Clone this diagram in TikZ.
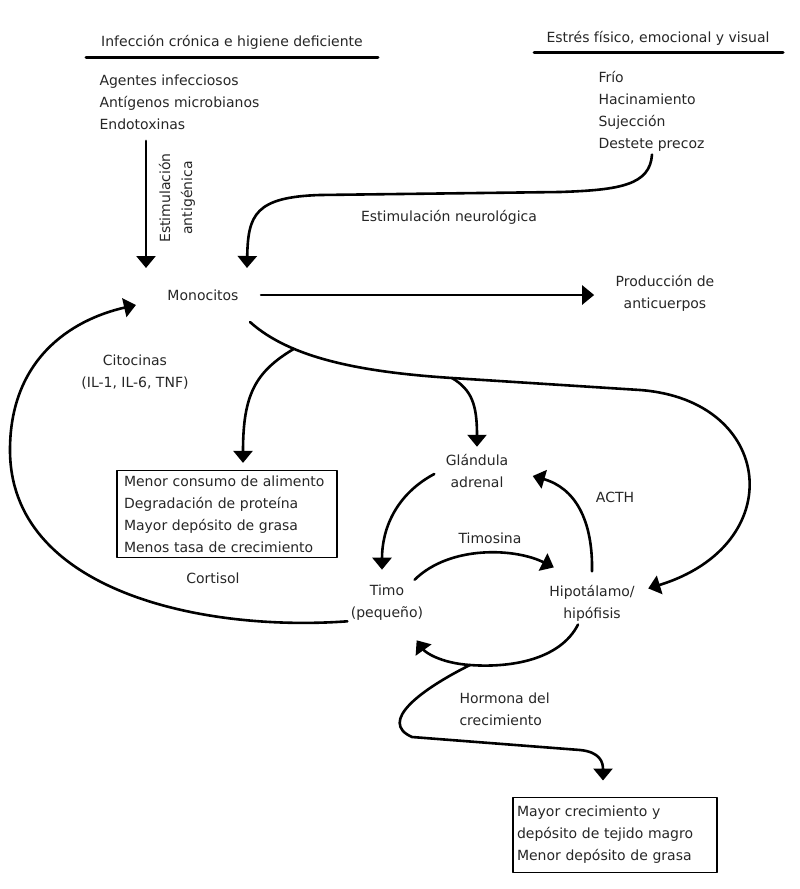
\documentclass[tikz,border=0pt]{standalone}
\usepackage{fontspec}
\setmainfont{DejaVu Sans}
\usetikzlibrary{arrows.meta}
\tikzset{>={Triangle[width=19pt,length=12pt]}}

\begin{document}
\begin{tikzpicture}[x=1pt, y=-1pt,
                line cap=round, line join=round,
                every node/.style={font=\fontsize{14}{22}\selectfont, text=black!85},
                linea/.style={line width=2.6pt},
                flecha/.style={linea,->},
                raya/.style={line width=3pt},
                caja/.style={draw, line width=1.4pt, align=left}]
                \useasboundingbox (0,0) rectangle (800,889);

                % encabezados y listas
                \node (hInf) at (232,42) {Infección crónica e higiene deficiente};
                \draw[raya] (86,57) -- (378,57);
                \node (hEst) at (658,38) {Estrés físico, emocional y visual};
                \draw[raya] (534,52) -- (783,52);
                \node[anchor=west, align=left] (infec) at (96,102)
                    {Agentes infecciosos\\Antígenos microbianos\\Endotoxinas};
                \node[anchor=west, align=left] (estres) at (595,111)
                    {Frío\\Hacinamiento\\Sujección\\Destete precoz};

                % nodos principales
                \node (mono) at (203,295) {Monocitos};
                \node[align=center] (prod) at (665,293) {Producción de\\anticuerpos};
                \node[caja, text width=206pt, inner xsep=7pt, inner ysep=5pt] (efectos) at (227,514)
                    {Menor consumo de alimento\\Degradación de proteína\\Mayor depósito de grasa\\Menos tasa de crecimiento};
                \node[align=center] (adrenal) at (477,471) {Glándula\\adrenal};
                \node[align=center] (timo) at (387,603) {Timo\\(pequeño)};
                \node[align=center] (hipo) at (592,603) {Hipotálamo/\\hipófisis};
                \node[caja, text width=196pt, inner xsep=4pt, inner ysep=9pt] (magro) at (615,835)
                    {Mayor crecimiento y\\depósito de tejido magro\\Menor depósito de grasa};

                % rotulos
                \node[rotate=90, align=center] (lAntig) at (177,198) {Estimulación\\antigénica};
                \node (lNeuro) at (449,217) {Estimulación neurológica};
                \node[align=center] (lCito) at (135,372) {Citocinas\\(IL-1, IL-6, TNF)};
                \node (lCort) at (213,578) {Cortisol};
                \node (lTimos) at (490,538) {Timosina};
                \node (lACTH) at (615,497) {ACTH};
                \node[anchor=west, align=left] (lHorm) at (456,709) {Hormona del\\crecimiento};

                % entradas a monocitos
                \coordinate (aA) at (146,268);
                \coordinate (aN) at (247,268);
                \draw[flecha, shorten <=8pt] (infec.south -| aA) -- (aA);
                \draw[flecha] ([xshift=57pt]estres.south west) .. controls (650,185) and (620,190) .. (560,192)
                    -- (320,195) .. controls (255,197) and (248,215) .. (aN);
                \draw[flecha, shorten <=19pt, shorten >=18pt] (mono.east) -- (mono.east -| prod.west);

                % salida de monocitos y ramas
                \draw[flecha] (250,322) .. controls (290,358) and (360,372) .. coordinate[pos=0.3] (j1) (452,378) coordinate (j2)
                    -- (640,390) .. controls (775,400) and (790,545) .. ([xshift=10pt,yshift=-7pt]hipo.north east);
                \draw[flecha] (j1) .. controls (255,372) and (243,395) .. ([xshift=16pt,yshift=7pt]efectos.north);
                \draw[flecha] (j2) .. controls (472,390) and (477,405) .. ([yshift=4pt]adrenal.north);

                % eje hipotalamo - adrenal - timo
                \draw[flecha] ([xshift=-8pt,yshift=-3pt]adrenal.west) .. controls (395,495) and (382,530) .. ([xshift=-5pt,yshift=12pt]timo.north);
                \draw[flecha] ([xshift=-12pt,yshift=2pt]timo.north east) .. controls (450,545) and (515,548) .. ([xshift=8pt,yshift=14pt]hipo.north west);
                \draw[flecha] ([yshift=10pt]hipo.north) .. controls (593,520) and (575,488) .. ([xshift=21pt,yshift=-5pt]adrenal.east);
                \draw[flecha] ([xshift=-14pt]hipo.south) .. controls (560,660) and (510,668) .. (470,665) coordinate (j3)
                    .. controls (440,663) and (425,652) .. ([xshift=-10pt,yshift=-16pt]timo.south east);
                \draw[flecha] (j3) .. controls (420,690) and (378,722) .. (412,737) -- (580,750)
                    .. controls (600,752) and (603,762) .. ([xshift=-12pt,yshift=16pt]magro.north);

                % citocinas de vuelta a monocitos
                \draw[flecha] ([yshift=3pt]timo.south west) .. controls (200,632) and (10,590) .. (10,450)
                    .. controls (10,360) and (70,320) .. ([xshift=-28pt,yshift=-10pt]mono.west);
\end{tikzpicture}
\end{document}
